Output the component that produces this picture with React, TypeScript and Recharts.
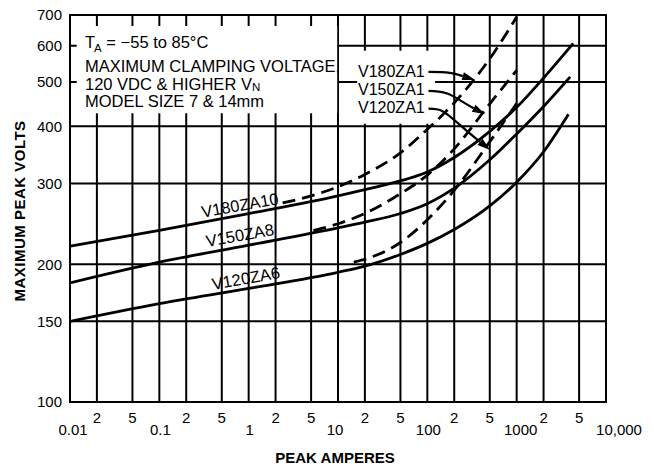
import React from "react";
import { ComposedChart, Line, XAxis, YAxis, CartesianGrid, ReferenceArea, ReferenceLine } from "recharts";

const FONT = "'Liberation Sans', Arial, Helvetica, sans-serif";

const ampTicks = [0.01, 0.02, 0.05, 0.1, 0.2, 0.5, 1, 2, 5, 10, 20, 50, 100, 200, 500, 1000, 2000, 5000, 10000];
const voltTicks = [100, 150, 200, 300, 400, 500, 600, 700];
const decadeNames: Record<string, string> = {
  "0.01": "0.01",
  "0.1": "0.1",
  "1": "1",
  "10": "10",
  "100": "100",
  "1000": "1000",
  "10000": "10,000",
};

// [peak amperes, maximum peak volts]
const v180za10: [number, number][] = [
  [0.01, 219], [0.1, 237], [1, 258], [10, 282], [20, 291], [50, 304], [100, 318],
  [200, 342], [500, 390], [1000, 440], [2000, 510], [4300, 607],
];
const v150za8: [number, number][] = [
  [0.01, 182], [0.1, 202], [1, 220], [10, 240], [20, 247], [50, 258], [100, 271],
  [200, 293], [500, 338], [1000, 385], [2000, 442], [3970, 513],
];
const v120za6: [number, number][] = [
  [0.01, 150], [0.1, 164], [1, 177], [10, 192], [20, 198], [50, 210], [100, 222],
  [200, 238], [500, 268], [1000, 302], [2000, 352], [3800, 425],
];
const v180za1: [number, number][] = [
  [2.4, 272], [5, 282], [10, 295], [20, 314], [50, 350], [100, 394], [200, 450],
  [500, 562], [1000, 693],
];
const v150za1: [number, number][] = [
  [5.3, 237], [10, 245], [20, 258], [50, 285], [100, 313], [200, 357], [500, 448],
  [1000, 530],
];
const v120za1: [number, number][] = [
  [15, 202], [20, 205], [50, 223], [100, 250], [200, 290], [500, 370], [1000, 449],
];

const series = [
  { key: "V180ZA10", data: v180za10, dashed: false },
  { key: "V150ZA8", data: v150za8, dashed: false },
  { key: "V120ZA6", data: v120za6, dashed: false },
  { key: "V180ZA1", data: v180za1, dashed: true },
  { key: "V150ZA1", data: v150za1, dashed: true },
  { key: "V120ZA1", data: v120za1, dashed: true },
];

const toPoints = (arr: [number, number][]) => arr.map(([a, v]) => ({ a, v }));

function AmpTick({ x, payload }: any) {
  const val = payload.value as number;
  const name = decadeNames[String(val)];
  if (name) {
    const shift = val === 10000 ? 13 : val === 1000 ? 4 : val === 0.01 ? 3 : val === 10 ? -3 : 1;
    return (
      <text x={x + shift} y={435} textAnchor="middle" fontSize={15} fill="#000" fontFamily={FONT}>
        {name}
      </text>
    );
  }
  const digit = Math.round(val / Math.pow(10, Math.floor(Math.log10(val) + 1e-9)));
  return (
    <text x={x} y={423} textAnchor="middle" fontSize={15} fill="#000" fontFamily={FONT}>
      {digit}
    </text>
  );
}

function VoltTick({ y, payload }: any) {
  return (
    <text x={62} y={y + 5.4} textAnchor="end" fontSize={15} fill="#000" fontFamily={FONT}>
      {payload.value}
    </text>
  );
}

// leader arrow; a/b/c shape the bend of the curve
const arrowShape = (a: number, b: number, c: number) => (p: any) => {
  const { x1, y1, x2, y2 } = p;
  if ([x1, y1, x2, y2].some((n) => typeof n !== "number" || isNaN(n))) return <g />;
  const dx = x2 - x1;
  const dy = y2 - y1;
  const c1x = x1 + dx * a;
  const c1y = y1;
  const c2x = x1 + dx * b;
  const c2y = y1 + dy * c;
  let ux = x2 - c2x;
  let uy = y2 - c2y;
  const len = Math.hypot(ux, uy) || 1;
  ux /= len;
  uy /= len;
  const bx = x2 - ux * 13;
  const by = y2 - uy * 13;
  const nx = -uy * 4;
  const ny = ux * 4;
  return (
    <g>
      <path d={`M${x1},${y1} C${c1x},${c1y} ${c2x},${c2y} ${bx},${by}`} fill="none" stroke="#000" strokeWidth={2.2} />
      <path d={`M${x2},${y2} L${bx + nx},${by + ny} L${bx - nx},${by - ny} Z`} fill="#000" />
    </g>
  );
};

export default function App() {
  return (
    <div style={{ position: "absolute", left: 0, top: 0, width: 654, height: 469, background: "#fff" }}>
      <ComposedChart width={654} height={469} margin={{ top: 15, right: 48, left: 0, bottom: 0 }}>
        <CartesianGrid stroke="#000" strokeWidth={2} strokeOpacity={1} />
        <XAxis
          dataKey="a"
          type="number"
          scale="log"
          domain={[0.01, 10000]}
          allowDataOverflow
          ticks={ampTicks}
          interval={0}
          height={67}
          axisLine={false}
          tickLine={false}
          tick={<AmpTick />}
        />
        <YAxis
          dataKey="v"
          type="number"
          scale="log"
          domain={[100, 700]}
          allowDataOverflow
          ticks={voltTicks}
          interval={0}
          width={70}
          axisLine={false}
          tickLine={false}
          tick={<VoltTick />}
        />
        <ReferenceArea x1={0.0119} x2={9.8} y1={427} y2={662} fill="#fff" fillOpacity={1} stroke="none" />
        <ReferenceArea x1={16.4} x2={122} y1={405} y2={585} fill="#fff" fillOpacity={1} stroke="none" />
        <ReferenceArea x1={0.01} x2={10000} y1={100} y2={700} fill="none" stroke="#000" strokeWidth={2} />
        {series.map((s) => (
          <Line
            key={s.key}
            data={toPoints(s.data)}
            dataKey="v"
            type="monotone"
            stroke="#000"
            strokeWidth={2.8}
            strokeDasharray={s.dashed ? "13 7" : undefined}
            dot={false}
            activeDot={false}
            isAnimationActive={false}
          />
        ))}
        <ReferenceLine segment={[{ x: 103, y: 526 }, { x: 343, y: 505 }]} shape={arrowShape(0.45, 0.55, 0.2)} />
        <ReferenceLine segment={[{ x: 103, y: 478 }, { x: 444, y: 425 }]} shape={arrowShape(0.4, 0.45, 0.3)} />
        <ReferenceLine segment={[{ x: 103, y: 437 }, { x: 505, y: 355 }]} shape={arrowShape(0.3, 0.25, 0.1)} />
      </ComposedChart>
      <svg
        width={654}
        height={469}
        style={{ position: "absolute", left: 0, top: 0, pointerEvents: "none", whiteSpace: "pre" }}
        fontFamily={FONT}
        fill="#000"
      >
        <text x={85} y={48} fontSize={16.5}>
          T<tspan fontSize={11.5} dy={4} dx={-1}>A</tspan>
          <tspan dy={-4}>{" =  \u221255 to 85\u00b0C"}</tspan>
        </text>
        <text x={85} y={72} fontSize={16.5}>MAXIMUM CLAMPING VOLTAGE,</text>
        <text x={85} y={90} fontSize={16.5}>
          120 VDC &amp; HIGHER V<tspan fontSize={11.5} dy={1}>N</tspan>
        </text>
        <text x={85} y={107} fontSize={16.5}>MODEL SIZE 7 &amp; 14mm</text>

        <text x={358} y={77} fontSize={16}>V180ZA1</text>
        <text x={358} y={95} fontSize={16}>V150ZA1</text>
        <text x={358} y={113} fontSize={16}>V120ZA1</text>

        <text x={240} y={206} dy={5} fontSize={16.5} textAnchor="middle" transform="rotate(-10 240 206)">V180ZA10</text>
        <text x={240} y={236} dy={5} fontSize={16.5} textAnchor="middle" transform="rotate(-10 240 236)">V150ZA8</text>
        <text x={246} y={279} dy={5} fontSize={16.5} textAnchor="middle" transform="rotate(-10 246 279)">V120ZA6</text>

        <text x={20} y={211} fontSize={15} fontWeight="bold" textAnchor="middle" letterSpacing={0.5} transform="rotate(-90 20 211)" dy={5}>
          MAXIMUM PEAK VOLTS
        </text>
        <text x={335} y={463} fontSize={15} fontWeight="bold" textAnchor="middle">PEAK AMPERES</text>
      </svg>
    </div>
  );
}
